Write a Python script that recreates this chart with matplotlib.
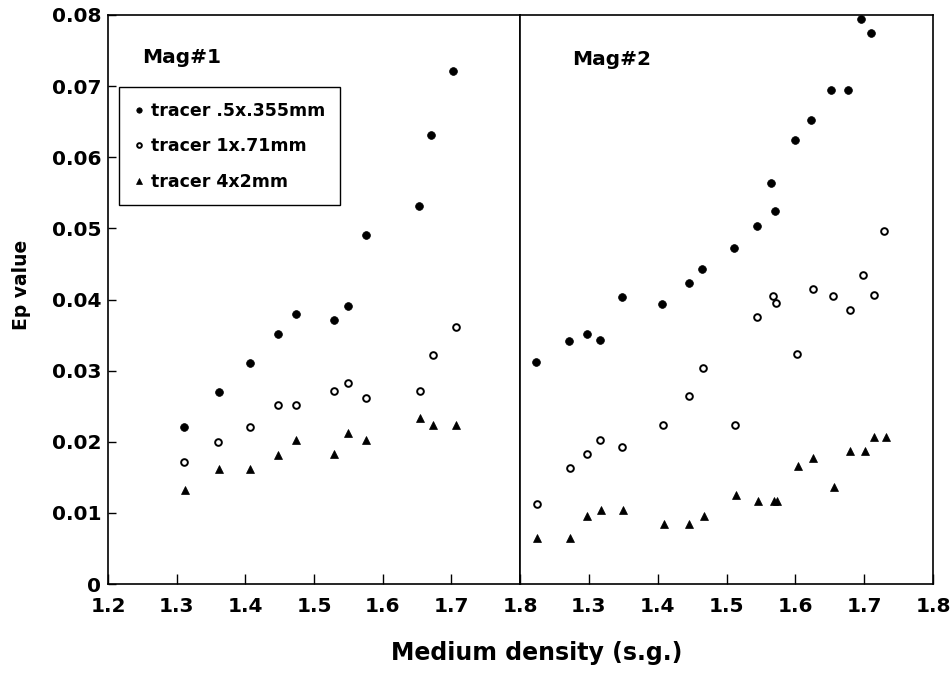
import matplotlib
matplotlib.use("Agg")
import matplotlib.pyplot as plt
from matplotlib.lines import Line2D

plt.rcParams['font.family'] = ['DejaVu Sans']
plt.rcParams['font.weight'] = 'bold'

# ---- Mag#1 -------------------------------------------------------------
mag1_fine_x = [1.311, 1.361, 1.407, 1.447, 1.474, 1.529, 1.549, 1.575, 1.653, 1.670, 1.703]
mag1_fine_y = [0.0221, 0.0270, 0.0311, 0.0351, 0.0380, 0.0371, 0.0391, 0.0491, 0.0531, 0.0631, 0.0721]

mag1_mid_x = [1.311, 1.360, 1.407, 1.447, 1.474, 1.529, 1.549, 1.576, 1.654, 1.673, 1.707]
mag1_mid_y = [0.0171, 0.0200, 0.0221, 0.0251, 0.0251, 0.0272, 0.0282, 0.0262, 0.0272, 0.0322, 0.0362]

mag1_coarse_x = [1.312, 1.361, 1.407, 1.447, 1.474, 1.529, 1.549, 1.576, 1.654, 1.673, 1.707]
mag1_coarse_y = [0.0132, 0.0162, 0.0162, 0.0182, 0.0202, 0.0183, 0.0213, 0.0203, 0.0234, 0.0224, 0.0224]

# ---- Mag#2 -------------------------------------------------------------
mag2_fine_x = [1.223, 1.271, 1.297, 1.316, 1.348, 1.407, 1.445, 1.465, 1.511, 1.544,
               1.565, 1.570, 1.600, 1.623, 1.652, 1.676, 1.695, 1.710]
mag2_fine_y = [0.0312, 0.0342, 0.0352, 0.0343, 0.0403, 0.0393, 0.0423, 0.0443, 0.0473, 0.0504,
               0.0564, 0.0524, 0.0624, 0.0653, 0.0694, 0.0694, 0.0795, 0.0775]

mag2_mid_x = [1.225, 1.272, 1.297, 1.316, 1.348, 1.408, 1.446, 1.466, 1.513, 1.545,
              1.568, 1.572, 1.602, 1.625, 1.655, 1.679, 1.699, 1.714, 1.729]
mag2_mid_y = [0.0112, 0.0163, 0.0183, 0.0203, 0.0193, 0.0224, 0.0264, 0.0304, 0.0224, 0.0375,
              0.0405, 0.0395, 0.0324, 0.0415, 0.0405, 0.0385, 0.0435, 0.0406, 0.0496]

mag2_coarse_x = [1.225, 1.273, 1.298, 1.318, 1.349, 1.409, 1.446, 1.468, 1.514, 1.546,
                 1.569, 1.573, 1.604, 1.626, 1.656, 1.680, 1.701, 1.715, 1.731]
mag2_coarse_y = [0.0064, 0.0064, 0.0095, 0.0104, 0.0104, 0.0084, 0.0084, 0.0095, 0.0125, 0.0116,
                 0.0116, 0.0116, 0.0166, 0.0177, 0.0136, 0.0187, 0.0187, 0.0207, 0.0207]

series_labels = ["tracer .5x.355mm", "tracer 1x.71mm", "tracer 4x2mm"]
panel_titles = ["Mag#1", "Mag#2"]
x_ticks = [1.2, 1.3, 1.4, 1.5, 1.6, 1.7, 1.8]
y_ticks = [0, 0.01, 0.02, 0.03, 0.04, 0.05, 0.06, 0.07, 0.08]

W, H = 952, 673
fig = plt.figure(figsize=(W / 100, H / 100), dpi=100)

def frac(x0, y0, x1, y1):
    return [x0 / W, 1 - y1 / H, (x1 - x0) / W, (y1 - y0) / H]

ax1 = fig.add_axes(frac(108, 15, 520, 584))
ax2 = fig.add_axes(frac(520, 15, 933, 584))

styles = [
    dict(marker='o', ms=5.6, mfc='black', mec='black', mew=0.5),
    dict(marker='o', ms=4.8, mfc='white', mec='black', mew=1.4),
    dict(marker='^', ms=5.4, mfc='black', mec='black', mew=0.5),
]

panels = [
    (ax1, [(mag1_fine_x, mag1_fine_y), (mag1_mid_x, mag1_mid_y), (mag1_coarse_x, mag1_coarse_y)]),
    (ax2, [(mag2_fine_x, mag2_fine_y), (mag2_mid_x, mag2_mid_y), (mag2_coarse_x, mag2_coarse_y)]),
]

for ax, data in panels:
    for (xs, ys), st in zip(data, styles):
        ax.plot(xs, ys, linestyle='none', clip_on=False, **st)
    ax.set_xlim(1.2, 1.8)
    ax.set_ylim(0, 0.08)
    ax.set_xticks(x_ticks)
    for sp in ax.spines.values():
        sp.set_linewidth(1.2)
    ax.tick_params(axis='x', direction='in', length=7, width=1.0, pad=9, labelsize=14.5)
    ax.tick_params(axis='y', direction='in', length=6, width=1.0, pad=5, labelsize=14.5)

ax1.set_xticklabels([f"{t:.1f}" for t in x_ticks])
ax1.set_yticks(y_ticks)
ax1.set_yticklabels(["0"] + [f"{t:.2f}" for t in y_ticks[1:]])

ax2.set_xticklabels([""] + [f"{t:.1f}" for t in x_ticks[1:]])
ax2.set_yticks([])

ax1.text(0.0825, 0.926, panel_titles[0], transform=ax1.transAxes,
         fontsize=14.5, fontweight='bold', ha='left', va='center')
ax2.text(0.126, 0.921, panel_titles[1], transform=ax2.transAxes,
         fontsize=14.5, fontweight='bold', ha='left', va='center')

handles = [Line2D([], [], linestyle='none', **st) for st in styles]
leg = ax1.legend(handles, series_labels, loc='upper left',
                 bbox_to_anchor=(0.0274, 0.873), borderaxespad=0,
                 fancybox=False, framealpha=1, edgecolor='black',
                 prop=dict(size=12.5, weight='bold'), markerscale=0.7,
                 handlelength=0.6, handletextpad=0.35, labelspacing=1.0,
                 borderpad=0.85)
leg.get_frame().set_linewidth(1.0)

fig.text(537 / W, 1 - 653 / H, "Medium density (s.g.)", fontsize=17,
         fontweight='bold', ha='center', va='center')
fig.text(22 / W, 1 - 285 / H, "Ep value", fontsize=13.5, fontweight='bold',
         ha='center', va='center', rotation=90)

fig.savefig("out.png", dpi=100)
